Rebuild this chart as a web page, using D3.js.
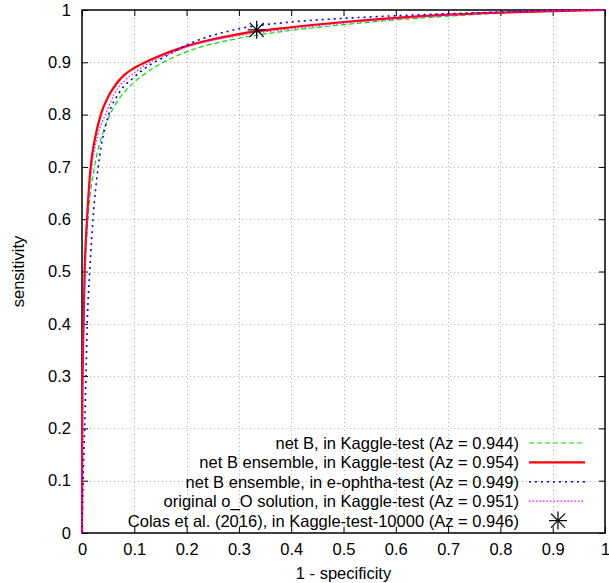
<!DOCTYPE html>
<html>
<head>
<meta charset="utf-8">
<script src="https://cdn.jsdelivr.net/npm/d3@7"></script>
<style>
  body { margin: 0; background: #fff; }
  text { font-family: "Liberation Sans", Arial, sans-serif; }
</style>
</head>
<body>
<div id="chart"></div>
<script>
// ROC points: [1 - specificity, sensitivity]
const netB = [[0,0],[0.001,0.3],[0.003,0.4],[0.006,0.5],[0.0115,0.6],[0.024,0.7],[0.04,0.765],[0.056,0.805],[0.076,0.837],[0.1,0.862],[0.127,0.883],[0.15,0.897],[0.2,0.92],[0.3,0.946],[0.4,0.961],[0.5,0.972],[0.6,0.981],[0.7,0.988],[0.8,0.994],[0.9,0.998],[1,1]];
const netBEns = [[0,0],[0.0005,0.2],[0.002,0.35],[0.003,0.4],[0.005,0.5],[0.0096,0.6],[0.0166,0.7],[0.025,0.755],[0.036,0.8],[0.05,0.834],[0.065,0.858],[0.08,0.875],[0.1,0.889],[0.125,0.902],[0.15,0.913],[0.2,0.931],[0.3,0.954],[0.4,0.967],[0.5,0.977],[0.6,0.985],[0.7,0.991],[0.8,0.995],[0.9,0.998],[1,1]];
const netBEnsOphtha = [[0,0],[0.002,0.1],[0.005,0.2],[0.0075,0.3],[0.01,0.4],[0.0147,0.5],[0.021,0.6],[0.031,0.7],[0.051,0.8],[0.07,0.84],[0.1,0.872],[0.13,0.895],[0.159,0.911],[0.2,0.933],[0.3,0.964],[0.4,0.977],[0.5,0.984],[0.6,0.989],[0.7,0.993],[0.8,0.996],[0.9,0.999],[1,1]];
const oOSolution = [[0,0],[0.001,0.3],[0.003,0.4],[0.006,0.5],[0.0102,0.6],[0.019,0.7],[0.03,0.76],[0.045,0.8],[0.062,0.84],[0.083,0.866],[0.1,0.88],[0.13,0.9],[0.159,0.913],[0.2,0.929],[0.3,0.951],[0.4,0.964],[0.5,0.975],[0.6,0.983],[0.7,0.99],[0.8,0.995],[0.9,0.998],[1,1]];
const colasPoint = [[0.334, 0.962]];

const xTicks = [0,0.1,0.2,0.3,0.4,0.5,0.6,0.7,0.8,0.9,1];
const yTicks = [0,0.1,0.2,0.3,0.4,0.5,0.6,0.7,0.8,0.9,1];

const seriesLabels = [
  "net B, in Kaggle-test (Az = 0.944)",
  "net B ensemble, in Kaggle-test (Az = 0.954)",
  "net B ensemble, in e-ophtha-test (Az = 0.949)",
  "original o_O solution, in Kaggle-test (Az = 0.951)",
  "Colas et al. (2016), in Kaggle-test-10000 (Az = 0.946)"
];

const width = 609, height = 583;
const margin = {top: 10, right: 4, bottom: 50, left: 82};
const w = width - margin.left - margin.right;
const h = height - margin.top - margin.bottom;
const fontSize = 16.5;

const x = d3.scaleLinear().domain([0, 1]).range([0, w]);
const y = d3.scaleLinear().domain([0, 1]).range([h, 0]);

const svg = d3.select("#chart").append("svg")
  .attr("width", width)
  .attr("height", height);

const g = svg.append("g")
  .attr("transform", `translate(${margin.left},${margin.top})`);

// grid
const grid = g.append("g")
  .attr("stroke", "#b0b0b0")
  .attr("stroke-width", 1)
  .attr("stroke-dasharray", "1,3");
grid.selectAll(".gx").data(xTicks.slice(1, -1)).enter().append("line")
  .attr("x1", d => Math.round(x(d)) + 0.5).attr("x2", d => Math.round(x(d)) + 0.5)
  .attr("y1", 0).attr("y2", h);
grid.selectAll(".gy").data(yTicks.slice(1, -1)).enter().append("line")
  .attr("y1", d => Math.round(y(d)) + 0.5).attr("y2", d => Math.round(y(d)) + 0.5)
  .attr("x1", 0).attr("x2", w);

// axes, ticks drawn inward on all four sides
const fmt = d => d === 0 || d === 1 ? String(d) : d.toFixed(1);
const axStyle = sel => {
  sel.select(".domain").remove();
  sel.selectAll("line").attr("stroke", "#000").attr("stroke-width", 1);
  sel.selectAll("text").attr("font-size", fontSize).attr("fill", "#000");
};
g.append("g").attr("transform", `translate(0,${h})`)
  .call(d3.axisBottom(x).tickValues(xTicks).tickFormat(fmt).tickSizeInner(-6).tickPadding(10))
  .call(axStyle);
g.append("g")
  .call(d3.axisLeft(y).tickValues(yTicks).tickFormat(fmt).tickSizeInner(-6).tickPadding(11))
  .call(axStyle);
g.append("g")
  .call(d3.axisTop(x).tickValues(xTicks).tickFormat("").tickSizeInner(-6))
  .call(axStyle);
g.append("g").attr("transform", `translate(${w},0)`)
  .call(d3.axisRight(y).tickValues(yTicks).tickFormat("").tickSizeInner(-6))
  .call(axStyle);

g.append("rect")
  .attr("x", 0).attr("y", 0).attr("width", w).attr("height", h)
  .attr("fill", "none").attr("stroke", "#000").attr("stroke-width", 1.5);

// curves
g.append("clipPath").attr("id", "clip").append("rect")
  .attr("x", -1).attr("y", -1).attr("width", w + 2).attr("height", h + 2);

const line = d3.line()
  .x(d => x(d[0]))
  .y(d => y(d[1]))
  .curve(d3.curveMonotoneX);

const series = [
  {data: netB, color: "#00e000", width: 1.2, dash: "5,3"},
  {data: netBEns, color: "#ff0000", width: 2.2, dash: null},
  {data: netBEnsOphtha, color: "#0000ff", width: 1.6, dash: "2,4"},
  {data: oOSolution, color: "#ff00ff", width: 1.2, dash: "1.5,2"}
];

const curves = g.append("g").attr("clip-path", "url(#clip)");
series.forEach(s => {
  curves.append("path")
    .datum(s.data)
    .attr("fill", "none")
    .attr("stroke", s.color)
    .attr("stroke-width", s.width)
    .attr("stroke-dasharray", s.dash)
    .attr("d", line);
});

const star = (sel, cx, cy, r) => {
  const p = sel.append("g").attr("stroke", "#000").attr("stroke-width", 1.2);
  p.append("line").attr("x1", cx - r).attr("x2", cx + r).attr("y1", cy).attr("y2", cy);
  p.append("line").attr("x1", cx).attr("x2", cx).attr("y1", cy - r).attr("y2", cy + r);
  p.append("line").attr("x1", cx - r * 0.78).attr("x2", cx + r * 0.78).attr("y1", cy - r * 0.78).attr("y2", cy + r * 0.78);
  p.append("line").attr("x1", cx - r * 0.78).attr("x2", cx + r * 0.78).attr("y1", cy + r * 0.78).attr("y2", cy - r * 0.78);
};
colasPoint.forEach(d => star(g, x(d[0]), y(d[1]), 9));

// legend
const legend = svg.append("g");
const rowY = i => 443 + i * 19.4;
seriesLabels.forEach((label, i) => {
  legend.append("text")
    .attr("x", 519).attr("y", rowY(i) + 6)
    .attr("text-anchor", "end")
    .attr("font-size", fontSize)
    .text(label);
  if (i < series.length) {
    const s = series[i];
    legend.append("line")
      .attr("x1", 529).attr("x2", 585)
      .attr("y1", rowY(i)).attr("y2", rowY(i))
      .attr("stroke", s.color)
      .attr("stroke-width", s.width)
      .attr("stroke-dasharray", s.dash);
  } else {
    star(legend, 558, rowY(i), 9);
  }
});

// axis titles
svg.append("text")
  .attr("x", margin.left + w / 2).attr("y", 579)
  .attr("text-anchor", "middle").attr("font-size", fontSize)
  .text("1 - specificity");
svg.append("text")
  .attr("transform", `translate(24,${margin.top + h / 2}) rotate(-90)`)
  .attr("text-anchor", "middle").attr("font-size", fontSize)
  .text("sensitivity");
</script>
</body>
</html>
